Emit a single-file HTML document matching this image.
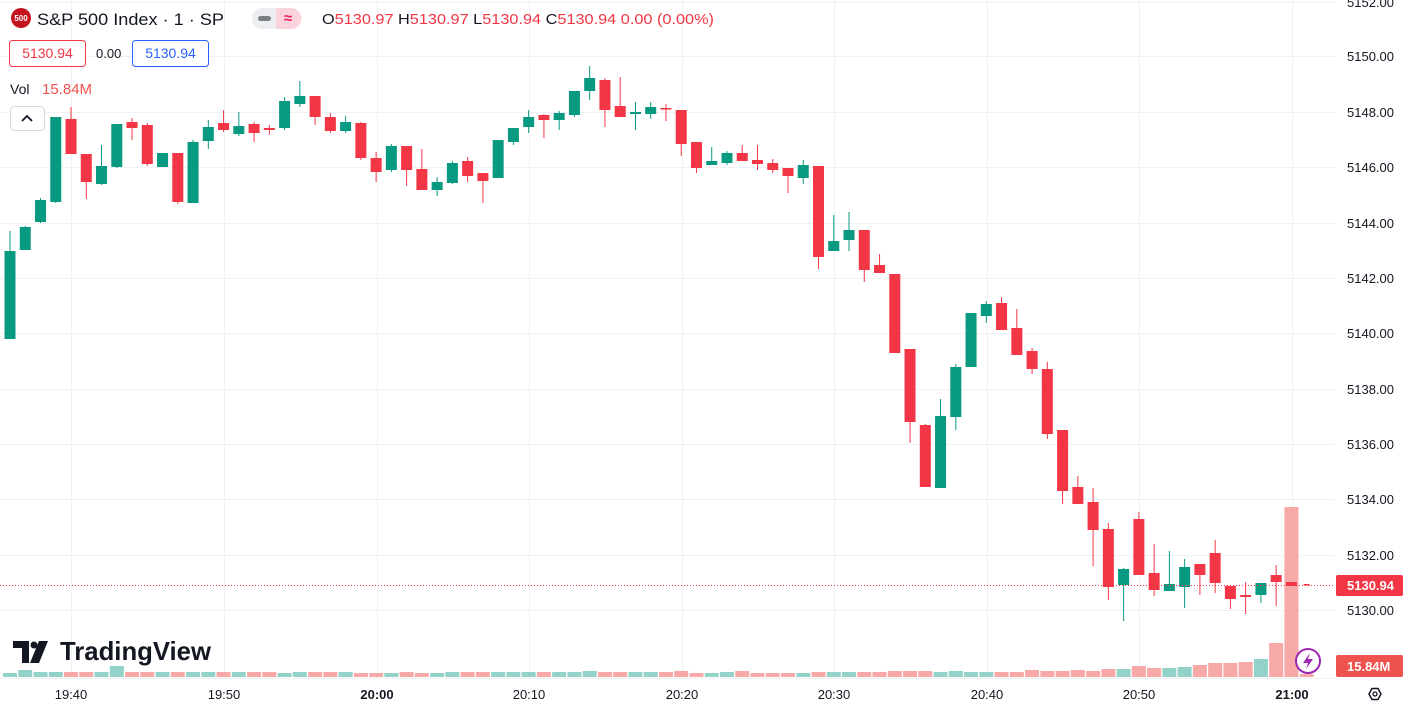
<!DOCTYPE html>
<html><head><meta charset="utf-8"><style>
html,body{margin:0;padding:0;background:#fff;width:1406px;height:717px;overflow:hidden;font-family:"Liberation Sans",sans-serif;}
svg{position:absolute;left:0;top:0}
.t{font-family:"Liberation Sans",sans-serif;}
</style></head><body>
<svg id="s" width="1406" height="717" xmlns="http://www.w3.org/2000/svg">
<g id="grid" stroke="#f0f1f4" stroke-width="1"></g>
<g id="vol"></g>
<g id="cdl"></g>
<line x1="0" y1="585.5" x2="1334" y2="585.5" stroke="#F23645" stroke-width="1" stroke-dasharray="1,2"/>
<g class="t" font-size="13" fill="#131722">
<text x="1347" y="7">5152.00</text>
<text x="1347" y="61">5150.00</text>
<text x="1347" y="117">5148.00</text>
<text x="1347" y="172">5146.00</text>
<text x="1347" y="228">5144.00</text>
<text x="1347" y="283">5142.00</text>
<text x="1347" y="338">5140.00</text>
<text x="1347" y="394">5138.00</text>
<text x="1347" y="449">5136.00</text>
<text x="1347" y="504">5134.00</text>
<text x="1347" y="560">5132.00</text>
<text x="1347" y="615">5130.00</text>
</g>
<rect x="1336" y="575" width="67" height="21" rx="2" fill="#F23645"/>
<text x="1347" y="590" font-size="13" fill="#fff" class="t" font-weight="bold">5130.94</text>
<rect x="1336" y="655" width="67" height="22" rx="2" fill="#EF5350"/>
<text x="1347" y="671" font-size="13" fill="#fff" class="t" font-weight="bold">15.84M</text>
<g class="t" font-size="13" fill="#131722" text-anchor="middle">
<text x="71" y="699">19:40</text>
<text x="224" y="699">19:50</text>
<text x="377" y="699" font-weight="bold">20:00</text>
<text x="529" y="699">20:10</text>
<text x="682" y="699">20:20</text>
<text x="834" y="699">20:30</text>
<text x="987" y="699">20:40</text>
<text x="1139" y="699">20:50</text>
<text x="1292" y="699" font-weight="bold">21:00</text>
</g>
<polygon points="1369,694 1372,688.5 1378,688.5 1381,694 1378,699.5 1372,699.5" fill="none" stroke="#131722" stroke-width="1.5"/>
<circle cx="1375" cy="694" r="2" fill="none" stroke="#131722" stroke-width="1.3"/>
<circle cx="1308" cy="661" r="12" fill="#fff" stroke="#9c27b0" stroke-width="2"/>
<path d="M1310,653 L1303,663 L1308,663 L1306,669 L1313,659 L1308,659 Z" fill="#9c27b0"/>
<circle cx="21" cy="18" r="10" fill="#C4141E"/>
<text x="21" y="21" font-size="8" fill="#fff" text-anchor="middle" class="t" font-weight="bold">500</text>
<text x="37" y="25" font-size="17" fill="#131722" class="t" textLength="187" lengthAdjust="spacingAndGlyphs">S&amp;P 500 Index · 1 · SP</text>
<rect x="252" y="8" width="49" height="21" rx="10" fill="#eceef2"/>
<path d="M276,8 h15 a10,10 0 0 1 0,21 h-15 z" fill="#fbd3dd"/>
<rect x="258" y="16" width="13" height="5" rx="2.5" fill="#7a7e87"/>
<text x="288" y="23" font-size="15" fill="#e91e63" text-anchor="middle" class="t" font-weight="bold">≈</text>
<text x="322" y="24" font-size="15" fill="#F23645" class="t" textLength="392" lengthAdjust="spacingAndGlyphs"><tspan fill="#131722">O</tspan>5130.97 <tspan fill="#131722">H</tspan>5130.97 <tspan fill="#131722">L</tspan>5130.94 <tspan fill="#131722">C</tspan>5130.94 0.00 (0.00%)</text>
<rect x="9.5" y="40.5" width="76" height="26" rx="3" fill="#fff" stroke="#F23645"/>
<text x="47.5" y="58" font-size="14" fill="#F23645" text-anchor="middle" class="t">5130.94</text>
<text x="96" y="58" font-size="13" fill="#131722" class="t">0.00</text>
<rect x="132.5" y="40.5" width="76" height="26" rx="3" fill="#fff" stroke="#2962FF"/>
<text x="170.5" y="58" font-size="14" fill="#2962FF" text-anchor="middle" class="t">5130.94</text>
<text x="10" y="94" font-size="14" fill="#131722" class="t">Vol</text>
<text x="42" y="94" font-size="15" fill="#EF5350" class="t">15.84M</text>
<rect x="10.5" y="106.5" width="34" height="24" rx="4" fill="#fff" stroke="#d6d8de"/>
<path d="M22,121 L27,116 L32,121" fill="none" stroke="#131722" stroke-width="1.8"/>
<g fill="#131722">
<path d="M13,641 h16 v22 h-7 v-15 h-9 z"/>
<circle cx="34" cy="645" r="3.5"/>
<path d="M39,641 h9 l-9,22 h-9 z"/>
</g>
<text x="60" y="660" font-size="26" font-weight="bold" fill="#131722" class="t" textLength="151" lengthAdjust="spacingAndGlyphs">TradingView</text>
</svg>
<script>
var ns="http://www.w3.org/2000/svg";
function el(p,t,a){var e=document.createElementNS(ns,t);for(var k in a)e.setAttribute(k,a[k]);document.getElementById(p).appendChild(e);}
var hy=[2,56,112,167,223,278,333,389,444,499,555,610,678];
hy.forEach(function(y){el("grid","line",{x1:0,x2:1334,y1:y+.5,y2:y+.5});});
[71,224,377,529,682,834,987,1139,1292].forEach(function(x){el("grid","line",{x1:x+.5,x2:x+.5,y1:0,y2:678});});
var D=[
["g",251,339,231,339],["g",227,250,226,250],["g",200,222,198,223],["g",117,202,117,203],["r",119,154,107,154],
["r",154,182,154,199],["g",166,184,145,185],["g",124,167,124,168],["r",122,128,118,140],["r",125,164,123,166],
["g",153,167,153,167],["r",153,202,153,204],["g",142,203,140,203],["g",127,141,120,149],["r",123,130,110,132],
["g",126,134,112,136],["r",124,133,122,142],["r",128,130,125,135],["g",101,128,97,130],["g",96,104,81,107],
["r",96,117,96,125],["r",117,131,113,133],["g",122,131,116,133],["r",123,158,122,160],["r",158,172,152,182],
["g",146,170,144,172],["r",146,170,146,186],["r",169,190,149,190],["g",182,190,177,196],["g",163,183,161,184],
["r",161,176,157,182],["r",173,181,173,203],["g",140,178,140,178],["g",128,142,128,145],["g",117,127,110,133],
["r",115,120,114,138],["g",113,120,111,130],["g",91,115,91,117],["g",78,91,66,100],["r",80,110,78,127],
["r",106,117,77,117],["g",112,114,102,130],["g",107,114,102,119],["r",108,109,104,121],["r",110,144,110,156],
["r",142,168,142,173],["g",161,165,147,165],["g",153,163,151,165],["r",153,161,145,161],["r",160,164,145,170],
["r",163,170,159,173],["r",168,176,168,193],["g",165,178,160,184],["r",166,257,166,269],["g",241,251,215,251],
["g",230,240,212,251],["r",230,270,230,282],["r",265,273,254,273],["r",274,353,274,353],["r",349,422,349,443],
["r",425,487,424,487],["g",416,488,399,488],["g",367,417,364,430],["g",313,367,313,367],["g",304,316,301,323],
["r",303,330,297,330],["r",328,355,309,355],["r",351,369,348,374],["r",369,434,362,439],["r",430,491,430,504],
["r",487,504,476,504],["r",502,530,488,566],["r",529,587,523,600],["g",569,585,568,621],["r",519,575,512,575],
["r",573,590,544,596],["g",584,591,551,591],["g",567,587,559,608],["r",564,575,564,595],["r",553,583,540,593],
["r",586,599,586,609],["r",595,597,582,614],["g",583,595,583,603],["r",575,582,565,606],["r",582,586,582,586],
["r",584,585,584,585]];
var V=[4,7,5,5,5,5,5,11,5,5,5,5,5,5,5,5,5,5,4,5,5,5,5,4,4,4,5,4,4,5,5,5,5,5,5,5,5,5,6,5,5,5,5,5,6,4,4,5,6,4,4,4,4,5,5,5,5,5,6,6,6,5,6,5,5,5,5,7,6,6,7,6,8,8,11,9,9,10,12,14,14,15,18,34,170,3];
var G="#089981",R="#F23645";
for(var i=0;i<D.length;i++){
 var d=D[i],x=10+15.255*i,c=d[0]=="g"?G:R;
 var vh=V[i]||5;
 el("vol","rect",{x:x-7,y:677-vh,width:14,height:vh,fill:d[0]=="g"?"#92D2C8":"#F7A9A7"});
 var w=(i==85)?6:11;
 el("cdl","line",{x1:x,x2:x,y1:d[3],y2:d[4],stroke:c,"stroke-width":1});
 el("cdl","rect",{x:x-w/2,y:d[1],width:w,height:Math.max(1.5,d[2]-d[1]),fill:c});
}
</script>
</body></html>
